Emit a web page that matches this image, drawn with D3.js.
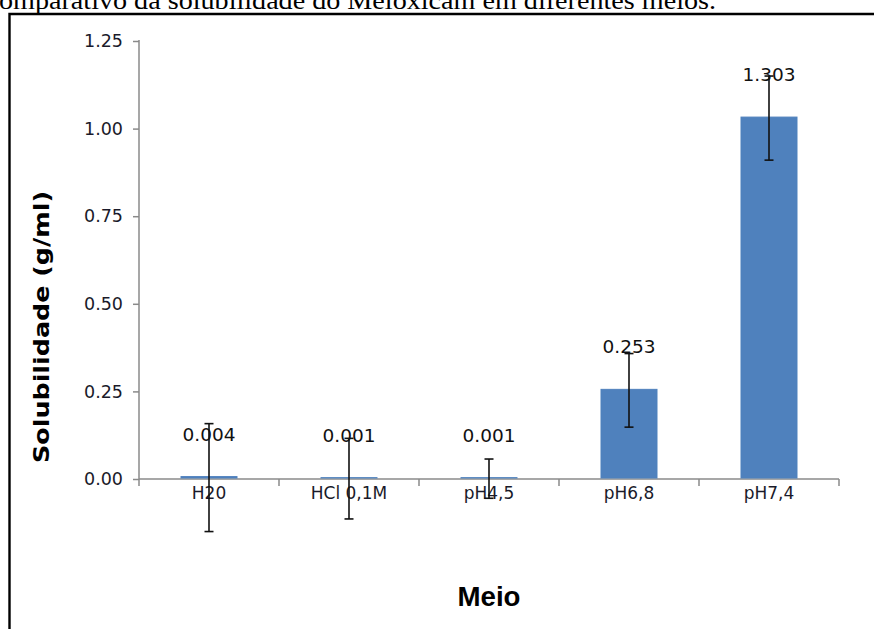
<!DOCTYPE html>
<html>
<head>
<meta charset="utf-8">
<script src="https://cdn.jsdelivr.net/npm/d3@7/dist/d3.min.js"></script>
<style>
  html, body { margin: 0; padding: 0; background: #fff; overflow: hidden; }
  svg { display: block; }
</style>
</head>
<body>
<svg id="chart" width="874" height="629"></svg>
<script>
// Solubility of meloxicam in different media
const categories = ["H20", "HCl 0,1M", "pH4,5", "pH6,8", "pH7,4"];
const solubility = [0.004, 0.001, 0.001, 0.253, 1.03];
const errors = [0.154, 0.115, 0.056, 0.105, 0.12];
const valueLabels = ["0.004", "0.001", "0.001", "0.253", "1.303"];
const yTicks = [0, 0.25, 0.5, 0.75, 1.0, 1.25];

const svg = d3.select("#chart");

const plot = { left: 139, right: 839, top: 41, bottom: 479 };

const x = d3.scaleBand().domain(categories).range([plot.left, plot.right]).padding(0);
const y = d3.scaleLinear().domain([0, 1.25]).range([plot.bottom, plot.top]);

const axisColor = "#8a8a8a";
const textFont = "'DejaVu Sans', Verdana, sans-serif";

// caption line cut off at the top of the page
svg.append("text")
  .attr("x", -1)
  .attr("y", 9)
  .attr("font-family", "'Liberation Serif', 'Times New Roman', serif")
  .attr("font-size", 25)
  .attr("textLength", 717)
  .attr("lengthAdjust", "spacingAndGlyphs")
  .attr("fill", "#000")
  .text("omparativo da solubilidade do Meloxicam em diferentes meios.");

// frame around the chart
svg.append("path")
  .attr("d", "M9.5,640V14H880")
  .attr("fill", "none")
  .attr("stroke", "#000")
  .attr("stroke-width", 2.4);

// y axis
const yAxis = d3.axisLeft(y)
  .tickValues(yTicks)
  .tickFormat(d3.format(".2f"))
  .tickSize(6)
  .tickPadding(10);

const gy = svg.append("g")
  .attr("transform", `translate(${plot.left},0)`)
  .call(yAxis);
gy.select(".domain").remove();
gy.selectAll(".tick line").attr("stroke", axisColor).attr("stroke-width", 1.5);
gy.selectAll(".tick text")
  .attr("font-family", textFont)
  .attr("font-size", 17.5)
  .attr("fill", "#1a1a2a");
gy.append("line")
  .attr("x1", 0).attr("x2", 0)
  .attr("y1", plot.top - 1).attr("y2", plot.bottom + 7)
  .attr("stroke", axisColor)
  .attr("stroke-width", 1.5);

// x axis: line, boundary ticks and category labels
const gx = svg.append("g");
gx.append("line")
  .attr("x1", plot.left).attr("x2", plot.right)
  .attr("y1", y(0)).attr("y2", y(0))
  .attr("stroke", axisColor)
  .attr("stroke-width", 1.5);
const bounds = categories.map(c => x(c) + x.bandwidth()).filter((_, i) => i >= 0);
gx.selectAll("line.bound")
  .data(bounds)
  .join("line")
  .attr("class", "bound")
  .attr("x1", d => d).attr("x2", d => d)
  .attr("y1", y(0)).attr("y2", y(0) + 7)
  .attr("stroke", axisColor)
  .attr("stroke-width", 1.5);
gx.selectAll("text.cat")
  .data(categories)
  .join("text")
  .attr("class", "cat")
  .attr("x", d => x(d) + x.bandwidth() / 2)
  .attr("y", y(0) + 20)
  .attr("text-anchor", "middle")
  .attr("font-family", textFont)
  .attr("font-size", 17)
  .attr("fill", "#1a1a2a")
  .text(d => d);

// bars
const barW = x.bandwidth() * 0.4;
svg.append("g")
  .selectAll("rect")
  .data(categories)
  .join("rect")
  .attr("x", d => x(d) + (x.bandwidth() - barW) / 2)
  .attr("width", barW)
  .attr("y", (d, i) => y(solubility[i]) - 1)
  .attr("height", (d, i) => y(0) - y(solubility[i]))
  .attr("fill", "#4f81bd")
  .attr("stroke", "#4f81bd")
  .attr("stroke-width", 1);

// error bars
const cap = 4.5;
const eg = svg.append("g")
  .attr("stroke", "#111")
  .attr("stroke-width", 1.6)
  .attr("fill", "none");
categories.forEach((c, i) => {
  const cx = x(c) + x.bandwidth() / 2;
  const hi = y(solubility[i] + errors[i]);
  const lo = y(solubility[i] - errors[i]);
  eg.append("line").attr("x1", cx).attr("x2", cx).attr("y1", hi).attr("y2", lo);
  eg.append("line").attr("x1", cx - cap).attr("x2", cx + cap).attr("y1", hi).attr("y2", hi);
  eg.append("line").attr("x1", cx - cap).attr("x2", cx + cap).attr("y1", lo).attr("y2", lo);
});

// value labels above bars
svg.append("g")
  .selectAll("text")
  .data(categories)
  .join("text")
  .attr("x", d => x(d) + x.bandwidth() / 2)
  .attr("y", (d, i) => y(solubility[i]) - 37)
  .attr("text-anchor", "middle")
  .attr("font-family", textFont)
  .attr("font-size", 18.5)
  .attr("fill", "#111")
  .text((d, i) => valueLabels[i]);

// axis titles
svg.append("text")
  .attr("transform", "translate(49,327) rotate(-90)")
  .attr("text-anchor", "middle")
  .attr("font-family", "'DejaVu Sans', Verdana, sans-serif")
  .attr("font-weight", "bold")
  .attr("font-size", 20.5)
  .attr("textLength", 272)
  .attr("lengthAdjust", "spacingAndGlyphs")
  .attr("fill", "#000")
  .text("Solubilidade (g/ml)");

svg.append("text")
  .attr("x", 489)
  .attr("y", 606)
  .attr("text-anchor", "middle")
  .attr("font-family", "'Liberation Sans', Arial, sans-serif")
  .attr("font-weight", "bold")
  .attr("font-size", 27)
  .attr("textLength", 63)
  .attr("lengthAdjust", "spacingAndGlyphs")
  .attr("fill", "#000")
  .text("Meio");
</script>
</body>
</html>
